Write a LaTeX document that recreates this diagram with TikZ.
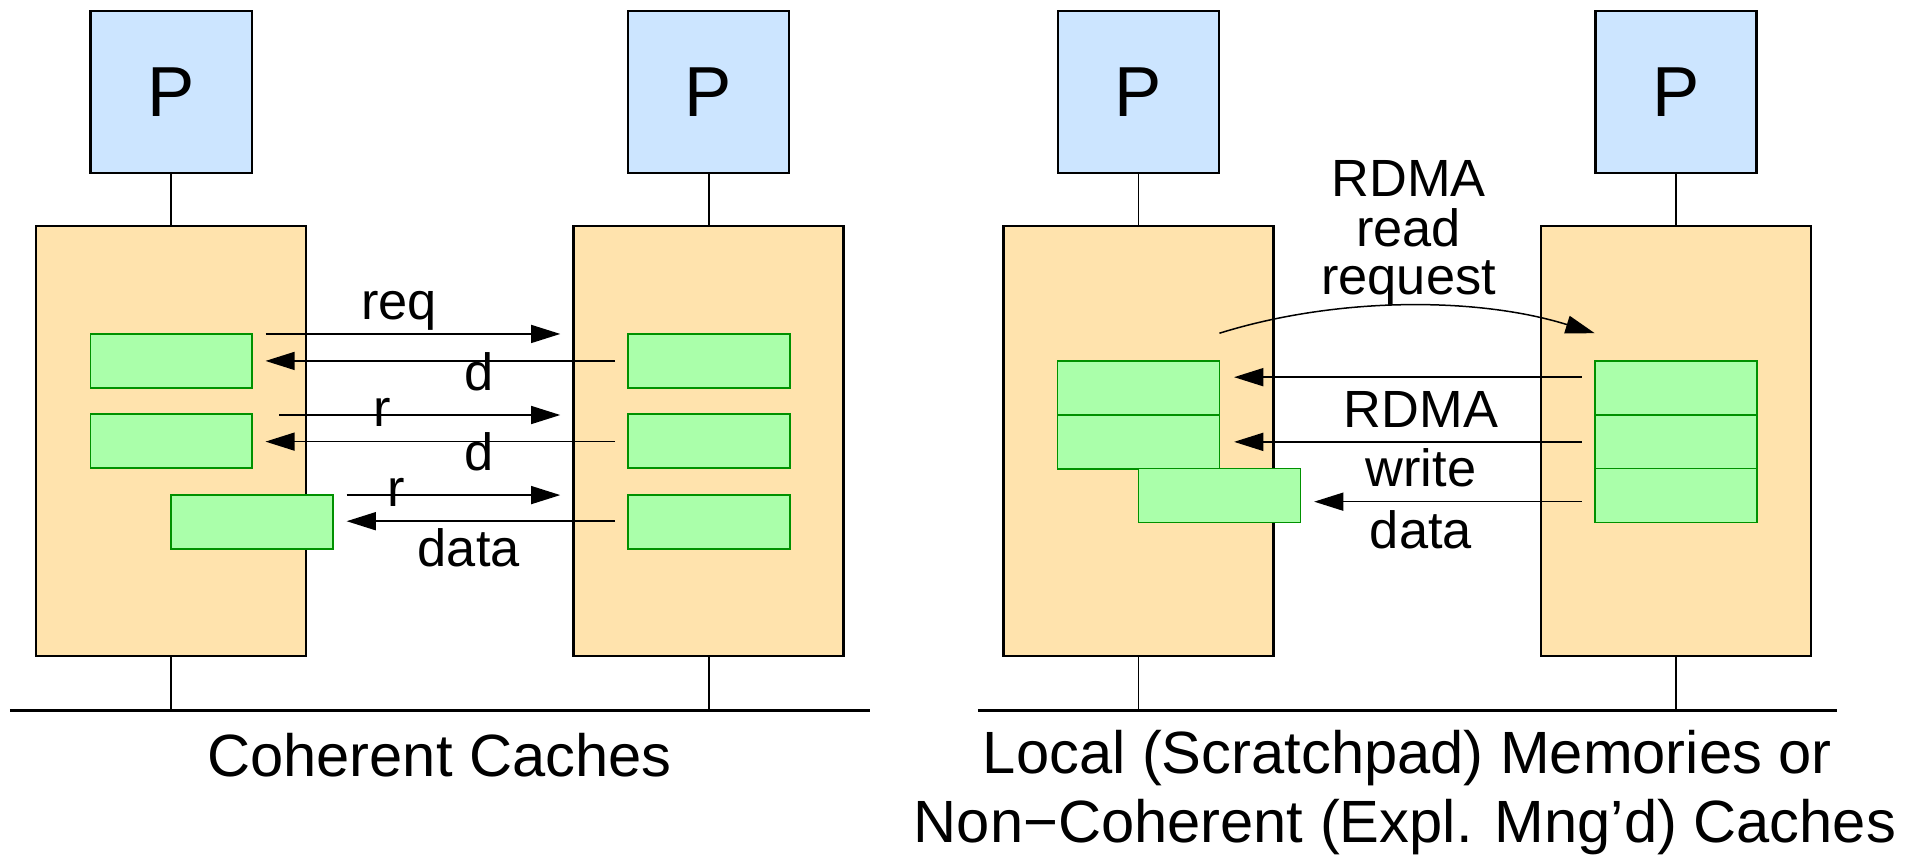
\documentclass[tikz,border=0pt]{standalone}
\usepackage{fontspec}
\setmainfont{Liberation Sans}
\usetikzlibrary{arrows.meta}
\definecolor{procblue}{RGB}{204,229,255}
\definecolor{cachetan}{RGB}{255,227,173}
\definecolor{linegreen}{RGB}{170,255,170}
\definecolor{edgegreen}{RGB}{0,145,0}
\tikzset{
  proc/.style={draw, line width=0.55pt, fill=procblue, minimum width=1.32cm,
    minimum height=1.325cm, inner sep=0pt, font=\fontsize{16.5pt}{16.5pt}\selectfont},
  cache/.style={draw, line width=0.55pt, fill=cachetan, minimum width=2.21cm,
    minimum height=3.52cm, inner sep=0pt},
  block/.style={draw=edgegreen, line width=0.4pt, fill=linegreen,
    minimum width=1.325cm, minimum height=0.443cm, inner sep=0pt},
  msg/.style={line width=0.35pt, -{Triangle[length=6.8pt,width=4.2pt]}},
  lbl/.style={anchor=base, inner sep=0pt, font=\fontsize{12.2pt}{14pt}\selectfont},
  captext/.style={anchor=base, inner sep=0pt, font=\fontsize{13.9pt}{16pt}\selectfont},
  wire/.style={line width=0.45pt},
  bus/.style={line width=0.6pt},
}
\begin{document}
\begin{tikzpicture}[x=0.01cm,y=-0.01cm]
\useasboundingbox (0,0) rectangle (1568,701);

% ---------- buses ----------
\coordinate (busA-w) at (8,582);
\coordinate (busA-e) at (712.6,582);
\coordinate (busB-w) at (801,582);
\coordinate (busB-e) at (1504.6,582);
\draw[bus] (busA-w) -- (busA-e);
\draw[bus] (busB-w) -- (busB-e);

% ---------- coherent caches ----------
\node[proc] (p1) at (140.2,75.2) {P};
\node[proc] (p2) at (580.5,75.2) {P};
\node[cache] (c1) at (140.2,361.5) {};
\node[cache] (c2) at (580.5,361.5) {};
\draw[wire] (p1.south) -- (c1.north);
\draw[wire] (p2.south) -- (c2.north);
\draw[wire] (c1.south) -- (c1.south |- busA-w);
\draw[wire] (c2.south) -- (c2.south |- busA-w);

\node[block] (a1) at (140.4,295.8) {};
\node[block] (a2) at (140.4,361.5) {};
\node[block] (a3) at (206.5,427.9) {};
\node[block] (b1) at (581,295.8) {};
\node[block] (b2) at (581,361.5) {};
\node[block] (b3) at (581,427.9) {};

\coordinate (req-s) at (217.7,273.6);  \coordinate (req-e) at (459,273.6);
\coordinate (d1-s)  at (504,295.7);    \coordinate (d1-e)  at (217.5,295.7);
\coordinate (r1-s)  at (228.6,340);    \coordinate (r1-e)  at (459,340);
\coordinate (d2-s)  at (504,361.8);    \coordinate (d2-e)  at (217.5,361.8);
\coordinate (r2-s)  at (284,405.6);    \coordinate (r2-e)  at (459,405.6);
\coordinate (dat-s) at (504,427);      \coordinate (dat-e) at (284,427);
\draw[msg] (req-s) -- (req-e);
\draw[msg] (d1-s) -- (d1-e);
\draw[msg] (r1-s) -- (r1-e);
\draw[msg] (d2-s) -- (d2-e);
\draw[msg] (r2-s) -- (r2-e);
\draw[msg] (dat-s) -- (dat-e);

\node[lbl] (t-req) at (327,262) {req};
\node[lbl] (t-d1)  at (392.6,320) {d};
\node[lbl] (t-r1)  at (313,349.5) {r};
\node[lbl] (t-d2)  at (392.6,385.6) {d};
\node[lbl] (t-r2)  at (324.5,415) {r};
\node[lbl] (t-dat) at (384,464) {data};

\node[captext] (capA) at (360,636.3) {Coherent Caches};

% ---------- scratchpad / non-coherent ----------
\node[proc] (p3) at (932.7,75.2) {P};
\node[proc] (p4) at (1373,75.2) {P};
\node[cache] (c3) at (932.7,361.5) {};
\node[cache] (c4) at (1373,361.5) {};
\draw[wire] (p3.south) -- (c3.north);
\draw[wire] (p4.south) -- (c4.north);
\draw[wire] (c3.south) -- (c3.south |- busB-w);
\draw[wire] (c4.south) -- (c4.south |- busB-w);

\node[block] (e1) at (932.7,317.8) {};
\node[block] (e2) at (932.7,362) {};
\node[block] (e3) at (999,406) {};
\node[block] (f1) at (1373,317.8) {};
\node[block] (f2) at (1373,362) {};
\node[block] (f3) at (1373,406) {};

\coordinate (rr-s) at (999,273);   \coordinate (rr-e) at (1306.5,273);
\coordinate (w1-s) at (1296,309);  \coordinate (w1-e) at (1011,309);
\coordinate (w2-s) at (1296,362);  \coordinate (w2-e) at (1011,362);
\coordinate (w3-s) at (1296,411);  \coordinate (w3-e) at (1076.6,411);
\draw[msg] (rr-s) .. controls (1095,243) and (1210,243) .. (rr-e);
\draw[msg] (w1-s) -- (w1-e);
\draw[msg] (w2-s) -- (w2-e);
\draw[msg] (w3-s) -- (w3-e);

\node[lbl] (t-rd1) at (1154,161) {RDMA};
\node[lbl] (t-rd2) at (1154,202) {read};
\node[lbl] (t-rd3) at (1154,241) {request};
\node[lbl] (t-wr1) at (1164,350.6) {RDMA};
\node[lbl] (t-wr2) at (1164,398.7) {write};
\node[lbl] (t-wr3) at (1164,449) {data};

\node[captext] (capB1) at (1153,634) {Local (Scratchpad) Memories or};
\node[captext] (capB2) at (1151,690) {Non−Coherent (Expl. Mng’d) Caches};
\end{tikzpicture}
\end{document}
